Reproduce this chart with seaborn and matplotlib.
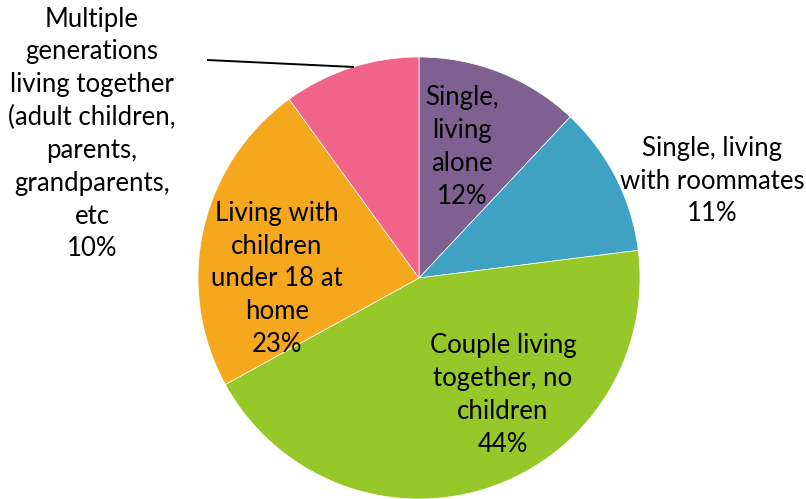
import matplotlib
matplotlib.use("Agg")
import matplotlib.pyplot as plt
import seaborn as sns

# Household living arrangements (share of respondents)
categories = [
    "Single,\nliving\nalone",
    "Single, living\nwith roommates",
    "Couple living\ntogether, no\nchildren",
    "Living with\nchildren\nunder 18 at\nhome",
    "Multiple\ngenerations\nliving together\n(adult children,\nparents,\ngrandparents,\netc",
]
shares = [12, 11, 44, 23, 10]
slice_colors = ["#7E6190", "#3FA2C3", "#96C82A", "#F5A81E", "#F06489"]

sns.set_theme(style="white")
plt.rcParams["font.family"] = ["Lato", "DejaVu Sans"]

W, H = 806, 499
fig = plt.figure(figsize=(W / 100, H / 100), dpi=100)
ax = fig.add_axes([0, 0, 1, 1])

cx, cy, r = 419, H - 278, 221
wedges, _ = ax.pie(
    shares,
    colors=sns.color_palette(slice_colors),
    startangle=90,
    counterclock=False,
    center=(cx, cy),
    radius=r,
    wedgeprops=dict(linewidth=0.5, edgecolor="white"),
)
ax.set_xlim(0, W)
ax.set_ylim(0, H)
ax.set_aspect("equal")
ax.axis("off")

label_pos = [(462, 147), (712, 181), (503, 395), (277, 279), (92, 134)]
for name, val, (x, y) in zip(categories, shares, label_pos):
    ax.text(x, H - y, f"{name}\n{val}%", ha="center", va="center",
            fontsize=18.5, color="black", linespacing=1.39)

# leader line for the outside label
ax.plot([207, 354], [H - 60, H - 67], color="black", lw=1.4, solid_capstyle="butt")

fig.savefig("out.png", dpi=100)
